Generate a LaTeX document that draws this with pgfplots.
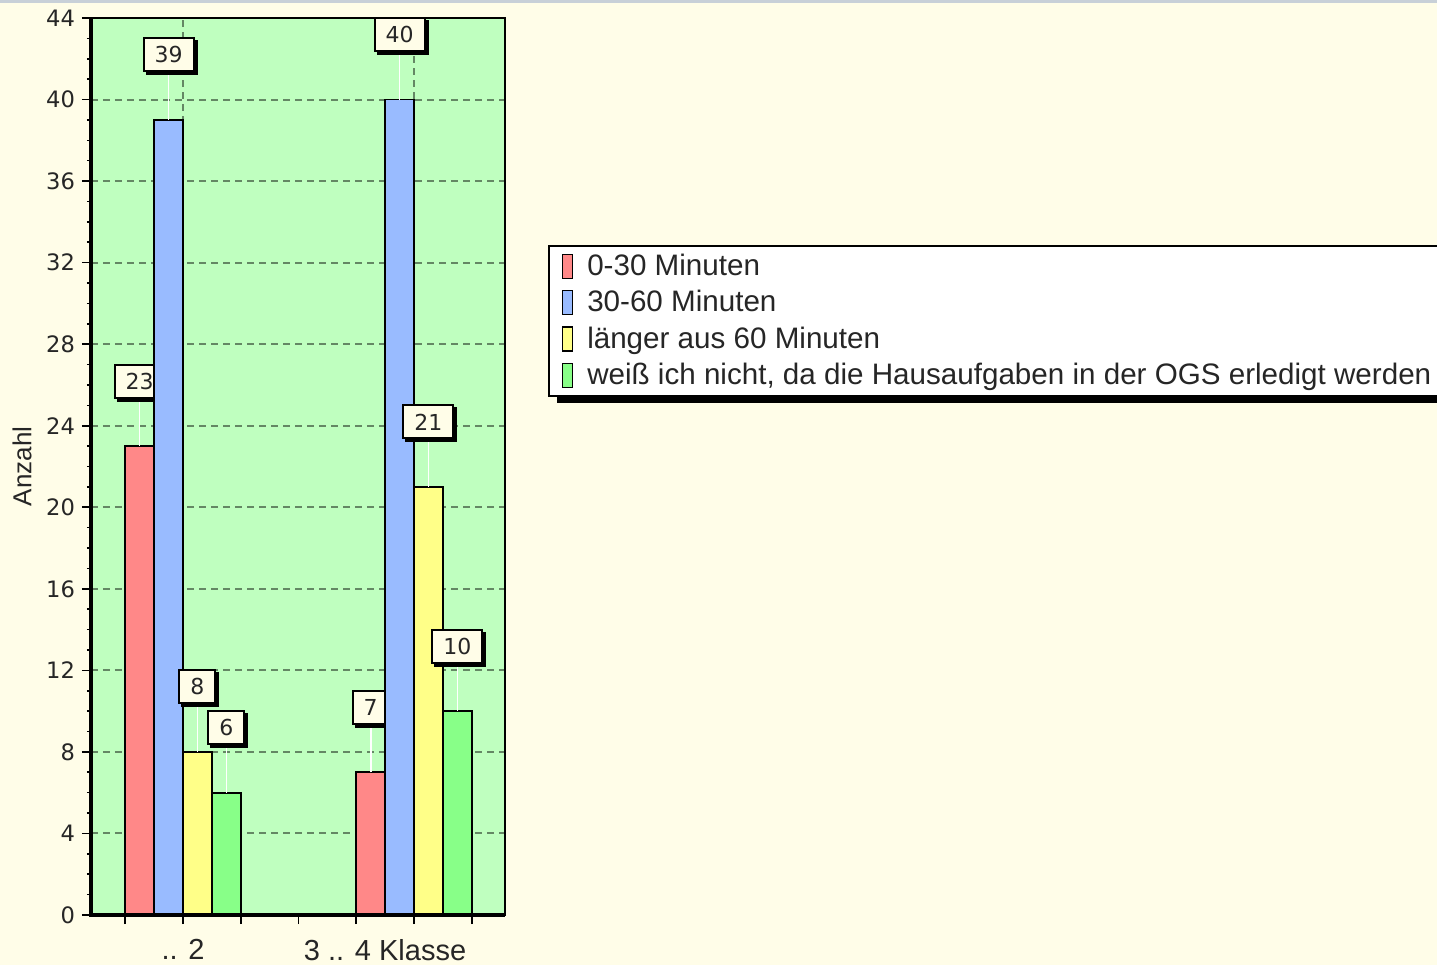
\documentclass[border=0pt]{standalone}
\usepackage{fontspec}
\setmainfont{Liberation Sans}
\newfontfamily\numfont{DejaVu Sans}
\usepackage{pgfplots}
\pgfplotsset{compat=1.18}
\usetikzlibrary{shadows}
\definecolor{bgcream}{RGB}{255,253,232}
\definecolor{topstrip}{RGB}{200,208,216}
\definecolor{plotgreen}{RGB}{191,255,191}
\definecolor{gridcol}{RGB}{100,135,100}
\definecolor{barred}{RGB}{255,136,136}
\definecolor{barblue}{RGB}{153,187,255}
\definecolor{baryellow}{RGB}{255,255,136}
\definecolor{bargreen}{RGB}{136,255,136}
\definecolor{boxcream}{RGB}{255,253,232}
\pgfplotsset{
  base/.style={
    at={(45.5pt,25pt)}, anchor=south west,
    scale only axis, width=207pt, height=448.5pt,
    xmin=-3.186, xmax=11.15, ymin=0, ymax=44,
    ybar, bar width=1, clip=false,
    /pgf/number format/assume math mode=true,
    nodes near coords,
    every node near coord/.append style={anchor=center, yshift=32.5pt, fill=boxcream, draw=black, line width=1pt, inner xsep=5.5pt, inner ysep=2pt, minimum height=16.5pt, font=\numfont\fontsize{11}{13}\selectfont, text=black!85, drop shadow={shadow xshift=1.5pt, shadow yshift=-1.5pt, fill=black, opacity=1}},
  },
  barstyle/.style={draw=black, line width=0.9pt, bar shift=0pt,
    error bars/.cd, y dir=plus, y fixed=2.38, error mark=none,
    error bar style={white, line width=0.8pt}},
}
\begin{document}
\begin{tikzpicture}
\useasboundingbox (0,0) rectangle (718.5pt,482.5pt);
\clip (0,0) rectangle (718.5pt,482.5pt);
\fill[bgcream] (0,0) rectangle (718.5pt,482.5pt);
\fill[topstrip] (0,481pt) rectangle (718.5pt,482.5pt);
\begin{axis}[
  base,
  axis background/.style={fill=plotgreen},
  axis line style={black, line width=1pt},
  ytick={0,4,...,44}, minor y tick num=3,
  xtick={0,8},
  xticklabels={{.. 2},{\makebox[0pt]{3 .. 4 Klasse\hspace{29pt}}}},
  extra x ticks={-2,2,4,6,10}, extra x tick labels={},
  extra x tick style={grid=none},
  xtick pos=bottom, ytick pos=left,
  tick align=outside, major tick length=4.5pt, minor tick length=2pt,
  tick style={black, line width=0.8pt},
  ymajorgrids, xmajorgrids,
  major grid style={gridcol, line width=1pt, dash pattern=on 3.5pt off 2.5pt},
  yticklabel style={font=\numfont\fontsize{11.3}{13}\selectfont, text=black!85},
  xticklabel style={font=\fontsize{14.5}{16}\selectfont, text=black!85, yshift=-4pt},
  ylabel={Anzahl},
  ylabel style={font=\fontsize{13}{15}\selectfont, text=black!85, at={(axis description cs:-0.1667,0.5)}, anchor=center},
]
\addplot[fill=barred, barstyle] coordinates {(-1.5,23) (6.5,7)};
\end{axis}
\begin{axis}[
  base,
  hide x axis, hide y axis,
  legend image code/.code={\draw[#1, line width=0.6pt] (0pt,-6pt) rectangle (5pt,6pt);},
  legend style={at={(axis description cs:1.104,0.747)}, anchor=north west, fill=white, draw=black, line width=1pt, font=\fontsize{14.8}{16}\selectfont, text=black!85, row sep=2pt, inner xsep=6.5pt, inner ysep=2pt, legend cell align=left, /tikz/every odd column/.append style={column sep=5pt}},
]
\addlegendimage{fill=barred, draw=black}
\addlegendentry{\makebox[440pt][l]{0-30 Minuten}}
\addplot[fill=barblue, barstyle] coordinates {(-0.5,39) (7.5,40)};
\addlegendentry{30-60 Minuten}
\addplot[fill=baryellow, barstyle] coordinates {(0.5,8) (8.5,21)};
\addlegendentry{länger aus 60 Minuten}
\addplot[fill=bargreen, barstyle] coordinates {(1.5,6) (9.5,10)};
\addlegendentry{weiß ich nicht, da die Hausaufgaben in der OGS erledigt werden}
\draw[black, line width=2pt] (rel axis cs:0,1) -- (rel axis cs:0,0) -- (rel axis cs:1,0);
\fill[black] (axis description cs:1.1256,0.5705) rectangle (axis description cs:6,0.72);
\end{axis}
\end{tikzpicture}
\end{document}
